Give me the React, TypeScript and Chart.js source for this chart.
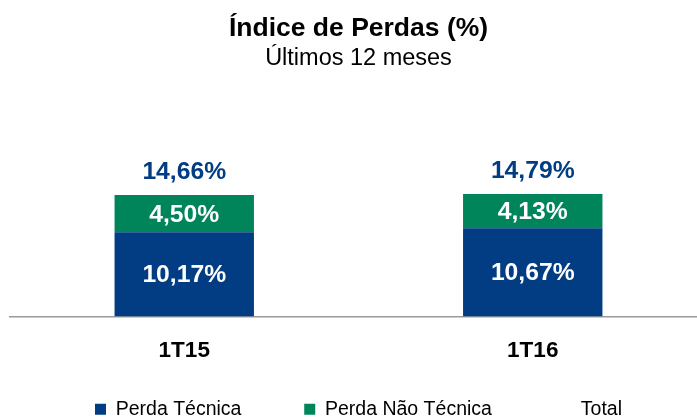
import React, { useEffect, useRef } from "react";
import { Chart, registerables } from "chart.js";

Chart.register(...registerables);

const categories = ["1T15", "1T16"];
const perdaTecnica = [10.17, 10.67];
const perdaNaoTecnica = [4.5, 4.13];
const totalValues = [14.66, 14.79];
const seriesNames = ["Perda Técnica", "Perda Não Técnica", "Total"];

const BLUE = "#023D84";
const GREEN = "#00845A";
const FONT = "'Liberation Sans', Arial, sans-serif";

const fmt = (v: number) => v.toFixed(2).replace(".", ",") + "%";

const labelPlugin = {
  id: "valueLabels",
  afterDatasetsDraw(chart: any) {
    const ctx = chart.ctx;
    ctx.save();
    ctx.textAlign = "center";
    ctx.textBaseline = "middle";
    chart.data.datasets.forEach((ds: any, i: number) => {
      const meta = chart.getDatasetMeta(i);
      meta.data.forEach((el: any, j: number) => {
        const v = ds.data[j];
        if (meta.type === "bar") {
          const p = el.getProps(["x", "y", "base"], true);
          ctx.font = `bold 24.7px ${FONT}`;
          ctx.fillStyle = "#ffffff";
          ctx.fillText(fmt(v), p.x, (p.y + p.base) / 2 + 1);
        } else {
          ctx.font = `bold 24.7px ${FONT}`;
          ctx.fillStyle = BLUE;
          ctx.fillText(fmt(v), el.x, el.y - 22.5);
        }
      });
    });
    ctx.restore();
  },
};

export default function App() {
  const ref = useRef<HTMLCanvasElement | null>(null);
  useEffect(() => {
    if (!ref.current) return;
    const chart = new Chart(ref.current, {
      type: "bar",
      data: {
        labels: categories,
        datasets: [
          {
            type: "bar",
            label: seriesNames[0],
            data: perdaTecnica,
            backgroundColor: BLUE,
            borderWidth: 0,
            barPercentage: 0.4,
            categoryPercentage: 1,
          },
          {
            type: "bar",
            label: seriesNames[1],
            data: perdaNaoTecnica,
            backgroundColor: GREEN,
            borderWidth: 0,
            barPercentage: 0.4,
            categoryPercentage: 1,
          },
          {
            type: "line",
            label: seriesNames[2],
            data: totalValues,
            stack: "total",
            showLine: false,
            pointRadius: 0,
            borderWidth: 0,
            borderColor: "rgba(0,0,0,0)",
            backgroundColor: "rgba(0,0,0,0)",
          } as any,
        ],
      },
      options: {
        animation: false,
        responsive: true,
        maintainAspectRatio: false,
        layout: { padding: { left: 10, right: 0, top: 0, bottom: 0 } },
        scales: {
          x: {
            stacked: true,
            grid: { display: false, drawTicks: false },
            border: { display: true, color: "#9a9a9a", width: 1.5 },
            ticks: {
              padding: 21,
              color: "#000",
              font: { family: FONT, size: 22.5, weight: "bold", lineHeight: 1.2 },
            },
          },
          y: {
            stacked: true,
            display: false,
            min: 0,
            max: 20,
          },
        },
        plugins: {
          title: {
            display: true,
            text: "Índice de Perdas (%)",
            color: "#000",
            font: { family: FONT, size: 26.5, weight: "bold", lineHeight: 1.2 },
            padding: { top: 12.5, bottom: 0 },
          },
          subtitle: {
            display: true,
            text: "Últimos 12 meses",
            color: "#000",
            font: { family: FONT, size: 23.5, weight: "normal", lineHeight: 1.2 },
            padding: { top: 0.6, bottom: 77.9 },
          },
          legend: {
            display: true,
            position: "bottom",
            labels: {
              boxWidth: 11,
              boxHeight: 11,
              padding: 14,
              color: "#000",
              font: { family: FONT, size: 19.5 },
              generateLabels(chart: any) {
                const items = Chart.defaults.plugins.legend.labels.generateLabels(chart);
                const extra = ["         ", "          ", ""];
                return items.map((it: any, i: number) => ({
                  ...it,
                  text: it.text + (extra[i] || ""),
                  lineWidth: 0,
                }));
              },
            },
          },
          tooltip: { enabled: false },
        },
      },
      plugins: [labelPlugin],
    });
    return () => chart.destroy();
  }, []);

  return (
    <div
      style={{
        position: "fixed",
        top: 0,
        left: 0,
        width: "707px",
        height: "429px",
        background: "#fff",
      }}
    >
      <canvas ref={ref} />
    </div>
  );
}
